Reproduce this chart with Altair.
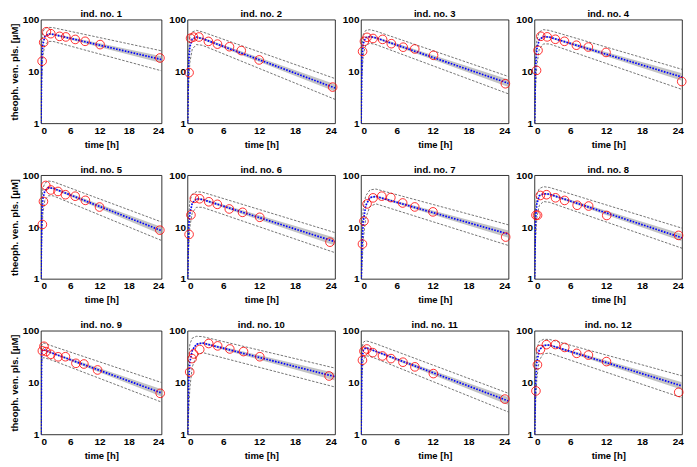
import altair as alt
import pandas as pd

# ---------------- data ----------------
TITLES = [f"ind. no. {i}" for i in range(1, 13)]
X_TICKS = [0, 6, 12, 18, 24]
Y_TICKS = [1, 10, 100]
X_MAX = 24.7

# observed concentrations (red circles), time [h] and value [uM]
OBS_T = [
    [0.25, 0.57, 1.12, 2.02, 3.82, 5.10, 7.03, 9.05, 12.12, 24.37],
    [0.27, 0.52, 1.00, 1.92, 3.50, 5.02, 7.03, 9.00, 12.00, 24.30],
    [0.27, 0.58, 1.02, 2.02, 3.62, 5.08, 7.07, 9.00, 12.15, 24.17],
    [0.35, 0.60, 1.07, 2.13, 3.50, 5.02, 7.02, 9.02, 11.98, 24.65],
    [0.30, 0.52, 1.00, 2.02, 3.50, 5.02, 7.02, 9.10, 12.00, 24.35],
    [0.27, 0.58, 1.15, 2.03, 3.57, 5.00, 7.00, 9.22, 12.10, 23.85],
    [0.25, 0.50, 1.02, 2.02, 3.48, 5.00, 6.98, 9.00, 12.05, 24.22],
    [0.25, 0.52, 0.98, 2.02, 3.53, 5.05, 7.15, 9.07, 12.10, 24.12],
    [0.30, 0.63, 1.05, 2.02, 3.53, 5.02, 7.17, 8.80, 11.60, 24.43],
    [0.37, 0.77, 1.02, 2.05, 3.55, 5.05, 7.08, 9.38, 12.10, 23.70],
    [0.25, 0.50, 0.98, 1.98, 3.60, 5.02, 7.03, 9.03, 12.12, 24.08],
    [0.25, 0.50, 1.00, 2.00, 3.52, 5.07, 7.07, 9.03, 12.05, 24.15],
]
OBS_C = [
    [15.8, 36.5, 58.3, 53.6, 47.6, 46.4, 41.5, 38.2, 33.0, 18.2],
    [9.5, 43.9, 46.1, 46.2, 38.0, 33.7, 30.0, 25.3, 16.7, 5.0],
    [24.4, 38.3, 45.5, 43.3, 41.6, 34.4, 29.4, 27.2, 20.5, 5.8],
    [10.5, 25.5, 47.7, 46.5, 41.8, 38.2, 32.1, 29.6, 23.3, 6.4],
    [11.2, 31.2, 63.3, 51.8, 48.5, 42.0, 39.3, 32.7, 24.3, 8.7],
    [7.2, 17.1, 35.7, 35.1, 30.7, 27.4, 22.3, 19.2, 15.4, 5.1],
    [4.7, 13.0, 27.9, 36.5, 39.4, 37.0, 29.1, 24.4, 19.6, 6.4],
    [16.9, 16.9, 40.6, 42.0, 36.6, 32.6, 26.3, 25.4, 16.7, 6.9],
    [40.9, 50.1, 39.6, 35.1, 31.4, 31.5, 23.5, 22.8, 17.5, 6.2],
    [16.0, 29.0, 35.6, 43.5, 56.7, 51.0, 44.5, 39.6, 31.5, 13.4],
    [27.0, 40.2, 44.4, 37.8, 32.6, 29.0, 24.7, 20.1, 14.9, 4.8],
    [6.9, 22.0, 43.4, 53.9, 54.1, 47.6, 36.6, 33.9, 25.4, 6.5],
]

# model curves (blue dotted), band (grey) and dashed limits, read at these times
TM = [0, 0.15, 0.4, 0.8, 1.5, 2.5, 24.7]
MODEL = [
    [0.5, 15, 33, 47, 53, 52, 17.0],
    [0.5, 12, 30, 42, 46, 43, 4.8],
    [0.5, 18, 35, 45, 47, 44.5, 5.9],
    [0.5, 10, 27, 41, 47, 46, 7.8],
    [0.5, 15, 35, 50, 57, 56, 8.5],
    [0.5, 8, 18, 29, 35, 34, 5.2],
    [0.5, 4, 13, 26, 37, 39, 7.3],
    [0.5, 12, 28, 40, 44, 43, 6.2],
    [0.5, 38, 43, 42, 39.5, 36.5, 6.3],
    [0.5, 8, 25, 42, 55, 58, 13],
    [0.5, 28, 42, 47, 44.3, 40, 4.4],
    [0.5, 8, 25, 42, 52, 53, 8.6],
]
BAND_LO = [
    [0.5, 14.5, 32, 45.5, 51, 50, 14.6],
    [0.5, 11.5, 29, 40.5, 44, 41, 4.1],
    [0.5, 17.5, 34, 43.5, 45, 42.5, 5.0],
    [0.5, 9.6, 26, 39.5, 45, 44, 6.6],
    [0.5, 14.5, 34, 48, 55, 53.5, 7.2],
    [0.5, 7.7, 17.4, 28, 33.5, 32.5, 4.4],
    [0.5, 3.8, 12.5, 25, 35.5, 37.5, 6.2],
    [0.5, 11.5, 27, 38.5, 42, 41, 5.3],
    [0.5, 36.5, 41.5, 40.5, 38, 35, 5.4],
    [0.5, 7.7, 24, 40.5, 53, 55.5, 11],
    [0.5, 27, 40.5, 45, 42.5, 38.5, 3.7],
    [0.5, 7.7, 24, 40.5, 50, 51, 7.3],
]
BAND_HI = [
    [0.5, 15.5, 34, 48.5, 55, 54, 19.6],
    [0.5, 12.5, 31, 43.5, 48, 45, 5.7],
    [0.5, 18.5, 36, 46.5, 49, 46.5, 7.0],
    [0.5, 10.4, 28, 42.5, 49, 48, 9.2],
    [0.5, 15.5, 36, 52, 59, 58.5, 10],
    [0.5, 8.3, 18.6, 30, 36.5, 35.5, 6.2],
    [0.5, 4.2, 13.5, 27, 38.5, 40.5, 8.6],
    [0.5, 12.5, 29, 41.5, 46, 45, 7.3],
    [0.5, 39.5, 44.5, 43.5, 41, 38, 7.4],
    [0.5, 8.3, 26, 43.5, 57, 60.5, 15.3],
    [0.5, 29, 43.5, 49, 46, 41.5, 5.2],
    [0.5, 8.3, 26, 43.5, 54, 55, 10.1],
]
DASH_UP = [
    [0.5, 30, 58, 68, 71, 70, 25],
    [0.5, 20, 45, 58, 62, 58, 7.3],
    [0.5, 30, 52, 62, 64, 60, 8.0],
    [0.5, 15, 40, 58, 64, 62, 11],
    [0.5, 25, 55, 70, 77, 75, 12.5],
    [0.5, 14, 32, 43, 48, 47, 7.8],
    [0.5, 8, 24, 40, 52, 54, 11],
    [0.5, 20, 42, 55, 60, 58, 9.5],
    [0.5, 52, 58, 57, 54, 50, 10],
    [0.5, 25, 55, 72, 78, 77, 19],
    [0.5, 45, 60, 64, 61, 56, 6.2],
    [0.5, 15, 45, 62, 68, 68, 13.5],
]
DASH_DN = [
    [0.5, 6, 20, 32, 38, 38, 10.3],
    [0.5, 4, 15, 27, 33, 32, 2.9],
    [0.5, 8, 22, 32, 35, 33, 3.7],
    [0.5, 4, 13, 27, 34, 34, 4.5],
    [0.5, 5, 18, 33, 40, 40, 5.5],
    [0.5, 3, 10, 19, 24, 24, 3.2],
    [0.5, 1.5, 6, 15, 25, 28, 4.4],
    [0.5, 5, 15, 26, 31, 30, 3.9],
    [0.5, 25, 30, 30, 28.5, 26.5, 4.2],
    [0.5, 2, 8, 20, 33, 38, 8.2],
    [0.5, 14, 27, 33, 32, 29, 2.7],
    [0.5, 3, 12, 27, 36, 37, 5.1],
]

Y_TITLE = "theoph. ven. pls. [\u00b5M]"
FONT = "Liberation Sans"
WIDTHS = [121, 148, 148, 148]
HEIGHT = 104


def panel(i):
    col = i % 4
    obs = pd.DataFrame({"t": OBS_T[i], "c": OBS_C[i]})
    mod = pd.DataFrame({
        "t": TM, "m": MODEL[i], "lo": BAND_LO[i], "hi": BAND_HI[i],
        "up": DASH_UP[i], "dn": DASH_DN[i],
    })
    xs = alt.Scale(domain=[0, X_MAX], nice=False, zero=False)
    ys = alt.Scale(type="log", domain=[1, 100], nice=False)
    xax = alt.Axis(values=X_TICKS, title="time [h]", format="d")
    if col == 0:
        yax = alt.Axis(values=Y_TICKS, format="d", title=Y_TITLE)
    else:
        yax = alt.Axis(values=Y_TICKS, format="d", title=None)
    x = alt.X("t:Q", scale=xs, axis=xax)

    band = alt.Chart(mod).mark_area(color="#c3c3c3", clip=True).encode(
        x=x, y=alt.Y("lo:Q", scale=ys, axis=yax), y2="hi:Q")
    up = alt.Chart(mod).mark_line(color="#3a3a3a", strokeWidth=0.7,
                                  strokeDash=[2.5, 1.5], clip=True).encode(
        x=x, y=alt.Y("up:Q", scale=ys, axis=yax))
    dn = alt.Chart(mod).mark_line(color="#3a3a3a", strokeWidth=0.7,
                                  strokeDash=[2.5, 1.5], clip=True).encode(
        x=x, y=alt.Y("dn:Q", scale=ys, axis=yax))
    line = alt.Chart(mod).mark_line(color="#0000ff", strokeWidth=1.7,
                                    strokeDash=[1.6, 1.4], clip=True).encode(
        x=x, y=alt.Y("m:Q", scale=ys, axis=yax))
    pts = alt.Chart(obs).mark_point(shape="circle", filled=False, color="#ff0000",
                                    size=75, strokeWidth=0.8, opacity=1).encode(
        x=x, y=alt.Y("c:Q", scale=ys, axis=yax))
    return alt.layer(band, up, dn, line, pts).properties(
        width=WIDTHS[col], height=HEIGHT,
        title=alt.TitleParams(TITLES[i], fontSize=9.5, fontWeight="bold",
                              font=FONT, offset=-4, anchor="middle"))


chart = alt.concat(
    *[panel(i) for i in range(12)],
    columns=4, spacing={"row": 52, "column": 26}, bounds="flush", align="each",
).properties(
    padding=0
).configure_view(
    stroke="#000000", strokeWidth=0.8
).configure_axis(
    domain=False, ticks=False, tickSize=0, grid=False,
    labelFont=FONT, labelFontSize=10, labelFontWeight="bold", labelColor="#000000",
    labelPadding=2,
    titleFont=FONT, titleFontSize=9.5, titleFontWeight="bold", titleColor="#000000",
).configure_axisX(titlePadding=4).configure_axisY(titlePadding=3)

chart.save("out.html", embed_options={"renderer": "svg", "actions": False})
